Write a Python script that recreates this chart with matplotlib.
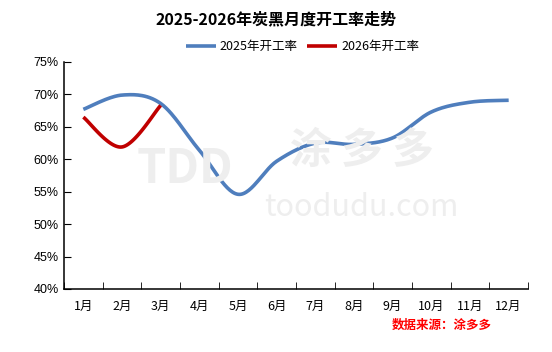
import numpy as np
import matplotlib
matplotlib.use("Agg")
import matplotlib.pyplot as plt
from matplotlib.ticker import FixedLocator

plt.rcParams['font.family'] = ['Noto Sans CJK SC', 'DejaVu Sans']

months = ["1月", "2月", "3月", "4月", "5月", "6月", "7月", "8月", "9月", "10月", "11月", "12月"]
rate_2025 = [67.7, 69.9, 68.6, 61.4, 54.6, 59.7, 62.5, 62.3, 63.3, 67.3, 68.8, 69.1]
rate_2026 = [66.5, 61.9, 68.3]
yticks = [40, 45, 50, 55, 60, 65, 70, 75]


def smooth(xs, ys, n=30):
    xs = np.asarray(xs, float)
    ys = np.asarray(ys, float)
    P = np.column_stack([xs, ys])
    out = []
    for i in range(len(P) - 1):
        p0 = P[i - 1] if i > 0 else P[i]
        p1 = P[i]
        p2 = P[i + 1]
        p3 = P[i + 2] if i + 2 < len(P) else P[i + 1]
        c1 = p1 + (p2 - p0) / 6.0
        c2 = p2 - (p3 - p1) / 6.0
        t = np.linspace(0, 1, n)[:, None]
        seg = ((1 - t) ** 3) * p1 + 3 * ((1 - t) ** 2) * t * c1 + 3 * (1 - t) * t ** 2 * c2 + t ** 3 * p2
        out.append(seg if i == 0 else seg[1:])
    seg = np.vstack(out)
    return seg[:, 0], seg[:, 1]


fig = plt.figure(figsize=(5.52, 3.52), dpi=100)
ax = fig.add_axes([64 / 552, 1 - 289 / 352, (528 - 64) / 552, (289 - 62) / 352])

# watermark
fig.text(0.335, 0.52, "TDD", fontsize=34, fontweight='bold', color='#eeeeee', ha='center', va='center', zorder=0)
fig.text(0.655, 0.57, "涂 多 多", fontsize=30, fontweight='bold', color='#eeeeee', ha='center', va='center', zorder=0)
fig.text(0.655, 0.41, "toodudu.com", fontsize=22, color='#eeeeee', ha='center', va='center', zorder=0)

x25 = np.arange(len(rate_2025)) + 0.5
x26 = np.arange(len(rate_2026)) + 0.5
sx, sy = smooth(x25, rate_2025)
ax.plot(sx, sy, color='#4F7EBD', lw=2.6, label='2025年开工率', solid_capstyle='butt')
sx, sy = smooth(x26, rate_2026)
ax.plot(sx, sy, color='#C00000', lw=2.6, label='2026年开工率', solid_capstyle='butt')

ax.set_xlim(0, 12)
ax.set_ylim(40, 75)
ax.set_yticks(yticks)
ax.set_yticklabels([f"{v}%" for v in yticks], fontsize=9, family=['Liberation Sans', 'DejaVu Sans'])
ax.set_xticks(x25)
ax.set_xticklabels(months, fontsize=9)
ax.xaxis.set_minor_locator(FixedLocator(np.arange(0, 13)))
ax.tick_params(axis='x', which='major', length=0, pad=8)
ax.tick_params(axis='x', which='minor', length=5, direction='in')
ax.tick_params(axis='y', which='major', length=5, direction='in', pad=4)
for s in ['top', 'right']:
    ax.spines[s].set_visible(False)
for s in ['left', 'bottom']:
    ax.spines[s].set_linewidth(1.1)
ax.patch.set_alpha(0)

fig.text(0.5, 0.945, "2025-2026年炭黑月度开工率走势", fontsize=11.5, fontweight='bold', ha='center', va='center')
fig.legend(loc='center', bbox_to_anchor=(0.548, 0.868), ncol=2, frameon=False, fontsize=9,
           handlelength=2.4, handletextpad=0.3, columnspacing=0.8)
fig.text(0.80, 0.076, "数据来源：涂多多", fontsize=9, fontweight='bold', style='italic', color='#FF0000',
         ha='center', va='center')

fig.savefig("out.png", dpi=100)
